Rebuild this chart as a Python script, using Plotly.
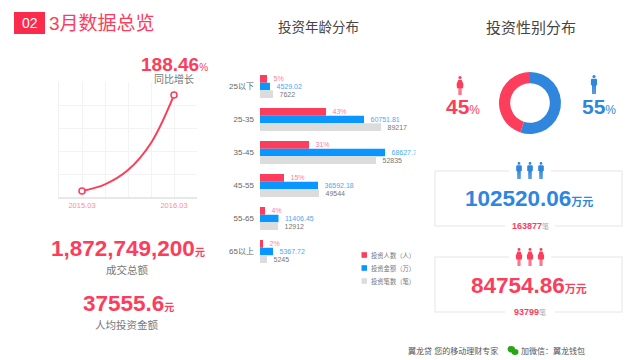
import plotly.graph_objects as go

W, H = 640, 360
RED = "#fc3d5c"
BLUE = "#2f86dc"
BAR_BLUE = "#0a96ff"
GRAY_BAR = "#dcdcdc"
FONT = "Liberation Sans, Noto Sans CJK SC, sans-serif"

# growth line
growth_x = [1, 2, 3, 4, 5]
growth_y = [0.26, 0.55, 1.17, 2.35, 4.43]
growth_ticks = ["", "2015.03", "", "", "", "2016.03", ""]

# age distribution
age_groups = ["25以下", "25-35", "35-45", "45-55", "55-65", "65以上"]
people_len = [7, 66, 49, 24, 5, 3]
amount_len = [10, 104, 125, 58, 18.5, 13]
count_len = [13, 121, 116, 59, 18, 7]
people_text = ["5%", "43%", "31%", "15%", "4%", "2%"]
amount_text = ["4529.02", "60751.81", "68627.75", "36592.18", "11406.45", "5367.72"]
count_text = ["7622", "89217", "52835", "49544", "12912", "5245"]
legend_names = ["投资人数（人）", "投资金额（万）", "投资笔数（笔）"]

# gender
gender_labels = ["男", "女"]
gender_share = [55, 45]


def fx(px):
    return px / W


def fy(py):
    return 1 - py / H


fig = go.Figure()

fig.add_trace(go.Scatter(
    x=growth_x, y=growth_y, mode="lines", xaxis="x", yaxis="y",
    line=dict(color=RED, width=2, shape="spline", smoothing=1), hoverinfo="skip"))
fig.add_trace(go.Scatter(
    x=[growth_x[0], growth_x[-1]], y=[growth_y[0], growth_y[-1]], mode="markers", xaxis="x", yaxis="y",
    marker=dict(size=6, color="white", line=dict(color=RED, width=1.5)), hoverinfo="skip"))

for name, vals, txt, col, tcol in [
    (legend_names[0], people_len, people_text, RED, "#ff7f94"),
    (legend_names[1], amount_len, amount_text, BAR_BLUE, "#45aaf5"),
    (legend_names[2], count_len, count_text, GRAY_BAR, "#777777"),
]:
    fig.add_trace(go.Bar(
        y=age_groups, x=vals, name=name, orientation="h", xaxis="x2", yaxis="y2",
        marker=dict(color=col, line=dict(width=0)), text=["\u2002" + s for s in txt], textposition="outside",
        textfont=dict(size=7, color=tcol, family=FONT), cliponaxis=True))

fig.add_trace(go.Pie(
    labels=gender_labels, values=gender_share, hole=0.64, sort=False, direction="clockwise", rotation=0,
    marker=dict(colors=[BLUE, RED], line=dict(width=0)), textinfo="none",
    domain=dict(x=[fx(499), fx(561)], y=[fy(134), fy(72)])))

# ---- decoration, drawn on a full-figure pixel axis
shapes = []


def sh(**k):
    k.setdefault("xref", "x3")
    k.setdefault("yref", "y3")
    k.setdefault("line", dict(width=0))
    shapes.append(k)


def female(cx, top, h, col):
    s = h / 28.0
    sh(type="circle", x0=cx - 2.3 * s, x1=cx + 2.3 * s, y0=top, y1=top + 4.6 * s, fillcolor=col)
    p = lambda a, b: f"{cx + a * s:.1f},{top + b * s:.1f}"
    path = ("M" + p(-2.4, 5.5) + " L" + p(2.4, 5.5) + " L" + p(5, 12) + " L" + p(4.4, 18) + " L" + p(2.2, 18)
            + " L" + p(2.2, 28) + " L" + p(0.4, 28) + " L" + p(0.4, 18) + " L" + p(-0.4, 18) + " L" + p(-0.4, 28)
            + " L" + p(-2.2, 28) + " L" + p(-2.2, 18) + " L" + p(-4.4, 18) + " L" + p(-5, 12) + " Z")
    sh(type="path", path=path, fillcolor=col)


def male(cx, top, h, col):
    s = h / 28.0
    sh(type="circle", x0=cx - 2.3 * s, x1=cx + 2.3 * s, y0=top, y1=top + 4.6 * s, fillcolor=col)
    p = lambda a, b: f"{cx + a * s:.1f},{top + b * s:.1f}"
    path = ("M" + p(-3.6, 5.5) + " L" + p(3.6, 5.5) + " L" + p(4.6, 7) + " L" + p(4.6, 15) + " L" + p(3, 15)
            + " L" + p(2.6, 28) + " L" + p(0.3, 28) + " L" + p(0.2, 17) + " L" + p(-0.2, 17) + " L" + p(-0.3, 28)
            + " L" + p(-2.6, 28) + " L" + p(-3, 15) + " L" + p(-4.6, 15) + " L" + p(-4.6, 7) + " Z")
    sh(type="path", path=path, fillcolor=col)


# header block
sh(type="rect", x0=14, x1=45, y0=12, y1=34, fillcolor="#fb2b4b")

# stat boxes
for y0, y1 in [(171, 226), (257, 312)]:
    sh(type="rect", x0=435, x1=622, y0=y0, y1=y1, line=dict(color="#eeeeee", width=1.5), fillcolor="white")
    sh(type="rect", x0=509, x1=551, y0=y0 - 3, y1=y0 + 3, fillcolor="white")
    sh(type="rect", x0=505, x1=555, y0=y1 - 3, y1=y1 + 3, fillcolor="white")

female(460, 76, 19, RED)
male(594, 75, 19, BLUE)
for cx in (519, 530, 541):
    male(cx, 162, 17, BLUE)
    female(cx, 248, 18, RED)

# legend squares
for py, c in zip((255, 268, 281), (RED, BAR_BLUE, GRAY_BAR)):
    sh(type="rect", x0=361.5, x1=367, y0=py - 2.8, y1=py + 2.8, fillcolor=c)

# wechat mark
sh(type="circle", x0=507.5, x1=515, y0=346, y1=352.5, fillcolor="#2aa515")
sh(type="circle", x0=511.5, x1=518.5, y0=349, y1=355, fillcolor="#2aa515")

ann = []


def t(x, y, s, size, color, anchor="center", bold=False):
    if bold:
        s = f"<b>{s}</b>"
    ann.append(dict(x=fx(x), y=fy(y), xref="paper", yref="paper", text=s, showarrow=False, xanchor=anchor,
                    yanchor="middle", font=dict(size=size, color=color, family=FONT), align="center",
                    borderpad=0, borderwidth=0))


def u(s, size, color=None, weight="normal"):
    c = f"color:{color};" if color else ""
    return f'<span style="font-size:{size}px;font-weight:{weight};{c}">{s}</span>'


t(29.5, 23, "02", 14, "white")
t(49, 24, "3月数据总览", 19, RED, "left")
t(318, 28, "投资年龄分布", 13.5, "#444444")
t(530.5, 28, "投资性别分布", 15, "#444444")

t(208, 64, "<b>188.46</b>" + u("%", 10), 19, RED, "right")
t(174, 79, "同比增长", 10, "#777777")
t(205, 248, "<b>1,872,749,200</b>" + u("元", 10, weight="bold"), 22.5, RED, "right")
t(127, 270, "成交总额", 10.5, "#777777")
t(174, 303, "<b>37555.6</b>" + u("元", 10, weight="bold"), 22.5, RED, "right")
t(127, 325, "人均投资金额", 10.5, "#777777")

t(480, 106, "<b>45</b>" + u("%", 12), 21, RED, "right")
t(616, 106, "<b>55</b>" + u("%", 12), 21, BLUE, "right")
t(593, 198, "<b>102520.06</b>" + u("万元", 11, weight="bold"), 22.5, BLUE, "right")
t(587, 285, "<b>84754.86</b>" + u("万元", 11, weight="bold"), 22.5, RED, "right")
t(530, 226, "<b>163877</b>" + u("笔", 7, "#aaaaaa"), 9, RED)
t(530, 312, "<b>93799</b>" + u("笔", 7, "#aaaaaa"), 9, RED)

for py, n in zip((255, 268, 281), legend_names):
    t(371, py, n, 6.3, "#777777", "left")

t(408, 351, "翼龙贷 您的移动理财专家", 8, "#555555", "left")
t(520.5, 351, "加微信：翼龙钱包", 8, "#555555", "left")

fig.update_layout(
    width=W, height=H, autosize=False, margin=dict(l=0, r=0, t=0, b=0, pad=0),
    paper_bgcolor="white", plot_bgcolor="rgba(0,0,0,0)", showlegend=False,
    font=dict(family=FONT), barmode="group", bargap=0.3, bargroupgap=0,
    shapes=shapes, annotations=ann,
    xaxis=dict(domain=[fx(59), fx(197)], range=[0, 6], tickmode="array", tickvals=list(range(7)), ticktext=growth_ticks,
               ticklen=0, showgrid=True, gridcolor="#f3f3f3", gridwidth=1, zeroline=False, showline=True, linecolor="#e8e8e8",
               linewidth=1.5, tickfont=dict(size=7.5, color="#ff8a9c"), anchor="y", fixedrange=True),
    yaxis=dict(domain=[fy(197), fy(82)], range=[0, 5], tickmode="array", tickvals=list(range(6)), showticklabels=False, ticklen=0,
               showgrid=True, gridcolor="#f3f3f3", gridwidth=1, zeroline=False, showline=True, linecolor="#f0f0f0",
               anchor="x", fixedrange=True),
    xaxis2=dict(domain=[fx(260), fx(415.6)], range=[0, 155.6], visible=False, anchor="y2", fixedrange=True),
    yaxis2=dict(domain=[fy(268), fy(70)], range=[5.5, -0.5], type="category", categoryorder="array", categoryarray=age_groups,
                ticklen=0, showgrid=False, zeroline=False, showline=False, tickfont=dict(size=8, color="#666666"),
                ticks="", ticklabelstandoff=5, anchor="x2", fixedrange=True),
    xaxis3=dict(domain=[0, 1], range=[0, W], visible=False, anchor="y3", fixedrange=True),
    yaxis3=dict(domain=[0, 1], range=[H, 0], visible=False, anchor="x3", fixedrange=True),
)
# keeps the pixel axes alive for the shapes
fig.add_trace(go.Scatter(x=[0], y=[0], xaxis="x3", yaxis="y3", mode="markers", marker=dict(opacity=0), hoverinfo="skip"))

fig.write_html("out.html", config=dict(displayModeBar=False),
               post_script="document.body.style.margin='0';document.body.style.overflow='hidden';")
